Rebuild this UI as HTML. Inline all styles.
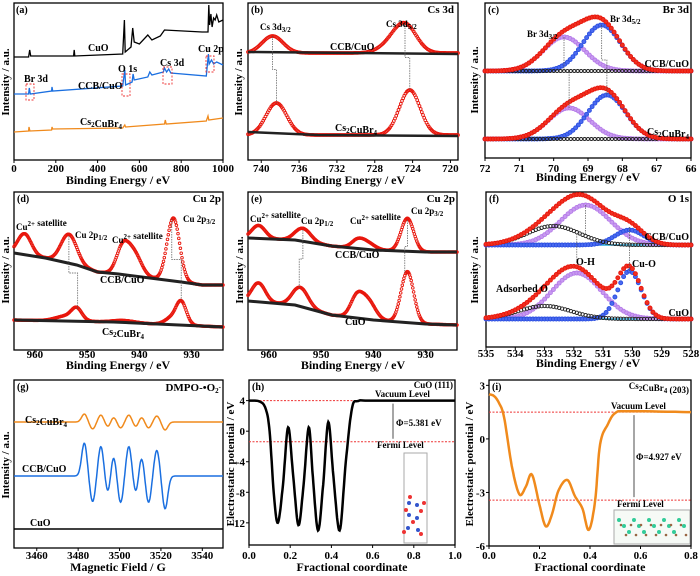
<!DOCTYPE html>
<html><head><meta charset="utf-8"><style>
html,body{margin:0;padding:0;background:#fff}
svg{display:block;font-family:"Liberation Serif",serif;font-weight:bold}
</style></head><body>
<svg id="fig" width="700" height="576" viewBox="0 0 700 576" xmlns="http://www.w3.org/2000/svg"></svg>
<script>
// ---------- data ----------
const aCuO=[[0,103],[70,103],[75,110],[80,104],[285,104],[288,110],[291,104],[520,106],[528,140],[532,108],[560,113],[568,132],[575,118],[600,116],[640,125],[660,120],[700,124],[720,130],[900,128],[928,128],[932,155],[936,135],[942,146],[948,133],[955,142],[962,140],[970,145],[980,138],[1000,140]];
const aCCB=[[0,66],[70,66],[73,72],[78,66],[180,69],[182,73],[185,69],[520,74],[530,90],[534,75],[565,78],[570,86],[575,80],[640,83],[650,88],[660,85],[715,88],[720,92],[730,88],[740,91],[750,87],[920,84],[930,106],[934,96],[945,100],[955,96],[970,98],[1000,95]];
const aCs=[[0,28],[70,29],[72,33],[76,29],[180,30],[182,33],[185,31],[520,32],[530,35],[534,33],[720,36],[724,40],[728,36],[920,39],[928,44],[932,40],[1000,42]];
// peaks: [center, height, sigma]
const bCCBbase=107, bCCBpk=[[724.8,28,1.2],[738.8,17,1.1],[726.5,6,1.2]];
const bCsbase=25, bCspk=[[724.3,45,1.1],[738.4,32,1.1]];
const cCCBbase=87, cCCBblue=[68.6,46,0.55], cCCBpurple=[69.7,34,0.6];
const cCsbase=19, cCsblue=[68.45,44,0.55], cCspurple=[69.55,31,0.6];
const dCCBbg=[[964,97],[958,92],[952,85],[948,78],[944,76],[938,72],[932,68],[928,65],[924,65]];
const dCCBpk=[[962,21,1.3],[953.5,29,1.5],[943.2,26,1.2],[941,22,1.4],[933.5,63,1.2]];
const dCsbg=[[964,30],[945,28],[924,23]];
const dCspk=[[952,11,1],[954,5,2],[932,23,1],[934,6,1.2],[943,2,2]];
const eCCBbg=[[964,112],[955,110],[948,104],[940,100],[930,98],[924,98]];
const eCCBpk=[[962,13,1.3],[953.5,13,1.5],[943,8,1.2],[941,6,1.4],[933.5,33,1.2]];
const eCuObg=[[964,49],[955,45],[948,35],[940,30],[930,26],[924,25]];
const eCuOpk=[[962,19,1.3],[954,19,1.5],[943.2,20,1.2],[941,18,1.4],[933.5,51,1.2]];
const fCCBbase=102, fCCBpurple=[531.6,40,0.85], fCCBblack=[532.7,19,0.9], fCCBblue=[530.1,15,0.5];
const fCuObase=28, fCuOpurple=[531.9,46,0.85], fCuOblue=[530.1,48,0.4], fCuOblack=[533.0,13,0.9];
const eprUp=[3483,3491,3497,3504.5,3510.5,3518];
const eprDown=[3487,3494.5,3500.5,3508,3514,3522];
const gCCBup=[33,30,21,30,20,26], gCCBdown=[26,18,27,18,27,33], gCCBbase=72;
const gCsup=[8,7,5,7,5,6], gCsdown=[7,5,6,5,6,8], gCsbase=126, gCuObase=19;
const hX=[0,0.05,0.08,0.1,0.12,0.14,0.165,0.19,0.215,0.24,0.265,0.29,0.31,0.335,0.36,0.385,0.41,0.44,0.47,0.5,0.53,0.6,1.0];
const hY=[4,3.9,3,0,-8,-12,-7,0.5,-6,-12.3,-7,0.5,-6,-13,-7,1.2,-6,-13,-4,3,3.95,4,4];
const iX=[0,0.02,0.04,0.06,0.09,0.12,0.145,0.17,0.2,0.225,0.25,0.275,0.31,0.34,0.37,0.395,0.42,0.44,0.47,0.5,0.55,0.8];
const iY=[2.5,2.4,2.0,1.2,-1.5,-3.1,-2.7,-2.0,-3.7,-4.9,-4.2,-2.9,-2.3,-3.2,-3.9,-5.1,-3.5,-0.3,0.8,1.45,1.55,1.5];
const hVac=4, hFermi=-1.381, iVac=1.5, iFermi=-3.427;

// ---------- helpers ----------
const NS='http://www.w3.org/2000/svg', svg=document.getElementById('fig');
function mk(tag,at,p){const e=document.createElementNS(NS,tag);for(const k in at)e.setAttribute(k,at[k]);(p||svg).appendChild(e);return e;}
function gauss(x,pk){return pk[1]*Math.exp(-((x-pk[0])**2)/(2*pk[2]*pk[2]));}
function interp(pts,x){for(let i=0;i<pts.length-1;i++){const a=pts[i],b=pts[i+1];if((x-a[0])*(x-b[0])<=0){const t=(x-a[0])/(b[0]-a[0]||1);return a[1]+t*(b[1]-a[1]);}}return pts[pts.length-1][1];}
function txt(p,x,y,s,opt){opt=opt||{};const t=mk('text',{x:x,y:y,'font-size':opt.fs||10,'text-anchor':opt.anchor||'start',fill:opt.fill||'#000'},p);if(opt.rot)t.setAttribute('transform','rotate(-90 '+x+' '+y+')');t.innerHTML=s;return t;}
function sub(s){return '<tspan font-size="7" dy="2">'+s+'</tspan><tspan dy="-2"></tspan>';}
function sup(s){return '<tspan font-size="7" dy="-4">'+s+'</tspan><tspan dy="4"></tspan>';}
function panel(name,x0,y0,x1,y1,xmin,xmax,ymin,ymax){
  const g=mk('g',{});
  
  
  const sx=v=>x0+(v-xmin)/(xmax-xmin)*(x1-x0);
  const sy=v=>y1-(v-ymin)/(ymax-ymin)*(y1-y0);
  const r=mk('rect',{x:x0,y:y0,width:x1-x0,height:y1-y0,fill:'none',stroke:'#000','stroke-width':1.3},g);
  
  
  return {g,sx,sy,x0,y0,x1,y1};
}
function xticks(P,vals,labels,ly){vals.forEach((v,i)=>{const x=P.sx(v);mk('line',{x1:x,x2:x,y1:P.y1,y2:P.y1+3,stroke:'#000'},P.g);const t=txt(P.g,x,ly,labels[i],{fs:11,anchor:'middle'});});}
function yticks(P,vals,labels,lx){vals.forEach((v,i)=>{const y=P.sy(v);mk('line',{x1:P.x0-3,x2:P.x0,y1:y,y2:y,stroke:'#000'},P.g);const t=txt(P.g,lx,y+4,labels[i],{fs:11,anchor:'end'});});}
function line(P,pts,color,w,name,dash){const d=pts.map((p,i)=>(i?'L':'M')+P.sx(p[0]).toFixed(1)+','+P.sy(p[1]).toFixed(1)).join('');const e=mk('path',{d:d,fill:'none',stroke:color,'stroke-width':w||1.2},P.g);if(dash)e.setAttribute('stroke-dasharray',dash);return e;}
function dots(P,pts,color,name,r,fill){const g=mk('g',{},P.g);pts.forEach(p=>mk('circle',{cx:P.sx(p[0]).toFixed(1),cy:P.sy(p[1]).toFixed(1),r:r||1.8,fill:fill||'none',stroke:color,'stroke-width':0.9},g));}
function sample(a,b,n,f){const o=[];for(let i=0;i<=n;i++){const x=a+(b-a)*i/n;o.push([x,f(x)]);}return o;}
function spline(xs,ys){const o=[];for(let i=0;i<xs.length-1;i++){const p0=[xs[Math.max(i-1,0)],ys[Math.max(i-1,0)]],p1=[xs[i],ys[i]],p2=[xs[i+1],ys[i+1]],p3=[xs[Math.min(i+2,xs.length-1)],ys[Math.min(i+2,xs.length-1)]];for(let k=0;k<10;k++){const t=k/10,t2=t*t,t3=t2*t;o.push([0.5*(2*p1[0]+(-p0[0]+p2[0])*t+(2*p0[0]-5*p1[0]+4*p2[0]-p3[0])*t2+(-p0[0]+3*p1[0]-3*p2[0]+p3[0])*t3),0.5*(2*p1[1]+(-p0[1]+p2[1])*t+(2*p0[1]-5*p1[1]+4*p2[1]-p3[1])*t2+(-p0[1]+3*p1[1]-3*p2[1]+p3[1])*t3)]);}}o.push([xs[xs.length-1],ys[ys.length-1]]);return o;}
function vdash(P,x1,y1,x2,y2){line(P,[[x1,y1],[x1,(y1+y2)/2],[x2,(y1+y2)/2],[x2,y2]],'#555',0.7,'guide-line','1.5,1');}
function ytitle(x,y,s){const t=txt(svg,x,y,s,{fs:11,anchor:'middle',rot:true});}
function xtitle(x,y,s){const t=txt(svg,x,y,s,{fs:12,anchor:'middle'});}
function lab(P,x,y,s,opt,name){const t=txt(P.g,x,y,s,opt);return t;}

// ---------- (a) ----------
let P=panel('panel-a-survey',14,3,223,160,0,1000,0,157);
line(P,aCuO,'#000',1.3,'series-cuo');
line(P,aCCB,'#1a6fe0',1.3,'series-ccb-cuo');
line(P,aCs,'#f08a1c',1.3,'series-cs2cubr4');
xticks(P,[0,200,400,600,800,1000],['0','200','400','600','800','1000'],172);
lab(P,16,13,'(a)',{fs:10},'panel-label');
lab(P,88,51,'CuO');lab(P,78,89,'CCB/CuO');lab(P,80,125,'Cs'+sub('2')+'CuBr'+sub('4'));
lab(P,24,82,'Br 3d');lab(P,118,72,'O 1s');lab(P,160,66,'Cs 3d');lab(P,198,52,'Cu 2p');
[[26,84,8,16],[122,74,8,22],[163,67,9,17],[206,56,8,16]].forEach(b=>{const r=mk('rect',{x:b[0],y:b[1],width:b[2],height:b[3],fill:'none',stroke:'#e33','stroke-width':0.9,'stroke-dasharray':'2,1.5'},P.g);});
ytitle(9,82,'Intensity / a.u.');xtitle(118,184,'Binding Energy / eV');

// ---------- (b) ----------
P=panel('panel-b-cs3d',248,3,458,160,741.4,719.2,0,157);
let s=sample(741.4,719.2,180,x=>bCCBbase+bCCBpk.reduce((a,p)=>a+gauss(x,p),0));
dots(P,s,'#e8160c','series-ccb-cuo-data',1.4);line(P,[[741.4,bCCBbase+1],[719.2,bCCBbase-1]],'#222',2.5,'ccb-background');
s=sample(741.4,719.2,180,x=>bCsbase+bCspk.reduce((a,p)=>a+gauss(x,p),0));
dots(P,s,'#e8160c','series-cs2cubr4-data',1.4);line(P,[[741.4,bCsbase+3],[734,bCsbase],[719.2,bCsbase-1]],'#222',2.5,'cs-background');
vdash(P,738.8,bCCBbase+bCCBpk[1][1],738.4,bCsbase+bCspk[1][1]);vdash(P,724.8,bCCBbase+bCCBpk[0][1],724.3,bCsbase+bCspk[0][1]);
xticks(P,[740,736,732,728,724,720],['740','736','732','728','724','720'],172);
lab(P,251,13,'(b)',{},'panel-label');lab(P,454,13,'Cs 3d',{fs:11,anchor:'end'},'panel-title');
lab(P,330,50,'CCB/CuO');lab(P,335,131,'Cs'+sub('2')+'CuBr'+sub('4'));
lab(P,260,30,'Cs 3d'+sub('3/2'),{fs:9});lab(P,386,27,'Cs 3d'+sub('5/2'),{fs:9});
ytitle(242,82,'Intensity / a.u.');xtitle(353,184,'Binding Energy / eV');

// ---------- (c) ----------
P=panel('panel-c-br3d',485,3,691,158,72,66,0,155);
[[cCCBbase,cCCBblue,cCCBpurple,'ccb'],[cCsbase,cCsblue,cCspurple,'cs']].forEach(q=>{
  const b=q[0];
  dots(P,sample(72,66,75,x=>b+gauss(x,q[2])),'#b57ae8','series-'+q[3]+'-br3d32',2,'#c79af0');
  dots(P,sample(72,66,75,x=>b+gauss(x,q[1])),'#2b4fe0','series-'+q[3]+'-br3d52',2,'#4a6af0');
  dots(P,sample(72,67,50,x=>b),'#222','series-'+q[3]+'-background',1.5);
  dots(P,sample(72,66,75,x=>b+gauss(x,q[1])+gauss(x,q[2])),'#e8160c','series-'+q[3]+'-envelope',2,'#f03020');
});
vdash(P,69.7,cCCBbase+34,69.55,cCsbase+31);vdash(P,68.6,cCCBbase+46,68.45,cCsbase+44);
xticks(P,[72,71,70,69,68,67,66],['72','71','70','69','68','67','66'],172);
lab(P,488,13,'(c)',{},'panel-label');lab(P,689,13,'Br 3d',{fs:11,anchor:'end'},'panel-title');
lab(P,689,67,'CCB/CuO',{anchor:'end'});lab(P,689,135,'Cs'+sub('2')+'CuBr'+sub('4'),{anchor:'end'});
lab(P,527,37,'Br 3d'+sub('3/2'),{fs:9});lab(P,610,22,'Br 3d'+sub('5/2'),{fs:9});
ytitle(478,80,'Intensity / a.u.');xtitle(588,181,'Binding Energy / eV');

// ---------- (d) ----------
P=panel('panel-d-cu2p',14,192,223,350,964,924,0,158);
dots(P,sample(964,924,260,x=>interp(dCCBbg,x)+dCCBpk.reduce((a,p)=>a+gauss(x,p),0)),'#e8160c','series-ccb-cuo-data',1.3);
line(P,dCCBbg,'#222',3,'ccb-background');
dots(P,sample(964,924,260,x=>interp(dCsbg,x)+dCspk.reduce((a,p)=>a+gauss(x,p),0)),'#e8160c','series-cs2cubr4-data',1.3);
line(P,dCsbg,'#222',3,'cs-background');
vdash(P,953.5,114,951.8,40);vdash(P,933.8,131,932,50);
xticks(P,[960,950,940,930],['960','950','940','930'],358);
lab(P,17,202,'(d)',{},'panel-label');lab(P,221,202,'Cu 2p',{fs:11,anchor:'end'},'panel-title');
lab(P,16,230,'Cu'+sup('2+')+' satellite',{fs:9});lab(P,75,238,'Cu 2p'+sub('1/2'),{fs:9});lab(P,112,243,'Cu'+sup('2+')+' satellite',{fs:9});lab(P,183,222,'Cu 2p'+sub('3/2'),{fs:9});
lab(P,100,283,'CCB/CuO');lab(P,102,335,'Cs'+sub('2')+'CuBr'+sub('4'));
ytitle(9,270,'Intensity / a.u.');xtitle(118,369,'Binding Energy / eV');

// ---------- (e) ----------
P=panel('panel-e-cu2p',248,192,457,350,964,924,0,158);
dots(P,sample(964,924,260,x=>interp(eCCBbg,x)+eCCBpk.reduce((a,p)=>a+gauss(x,p),0)),'#e8160c','series-ccb-cuo-data',1.3);
line(P,eCCBbg,'#222',3,'ccb-background');
dots(P,sample(964,924,260,x=>interp(eCuObg,x)+eCuOpk.reduce((a,p)=>a+gauss(x,p),0)),'#e8160c','series-cuo-data',1.3);
line(P,eCuObg,'#222',3,'cuo-background');
vdash(P,953.5,120,954.2,62);vdash(P,933.5,130,934,77);
xticks(P,[960,950,940,930],['960','950','940','930'],358);
lab(P,251,202,'(e)',{},'panel-label');lab(P,455,202,'Cu 2p',{fs:11,anchor:'end'},'panel-title');
lab(P,250,222,'Cu'+sup('2+')+' satellite',{fs:9});lab(P,301,224,'Cu 2p'+sub('1/2'),{fs:9});lab(P,350,224,'Cu'+sup('2+')+' satellite',{fs:9});lab(P,411,214,'Cu 2p'+sub('3/2'),{fs:9});
lab(P,335,258,'CCB/CuO');lab(P,345,325,'CuO');
ytitle(243,270,'Intensity / a.u.');xtitle(353,369,'Binding Energy / eV');

// ---------- (f) ----------
P=panel('panel-f-o1s',486,192,691,347,535,528,0,155);
[[fCCBbase,fCCBpurple,fCCBblack,fCCBblue,'ccb'],[fCuObase,fCuOpurple,fCuOblack,fCuOblue,'cuo']].forEach(q=>{
  const b=q[0];
  line(P,[[535,b],[528,b]],'#2ad','1.5','series-'+q[4]+'-baseline');
  dots(P,sample(535,528,70,x=>b+gauss(x,q[1])),'#b57ae8','series-'+q[4]+'-oh',2,'#c79af0');
  dots(P,sample(535,528,70,x=>b+gauss(x,q[3])),'#2b4fe0','series-'+q[4]+'-cuo',2,'#4a6af0');
  dots(P,sample(535,528,70,x=>b+gauss(x,q[2])),'#222','series-'+q[4]+'-adsorbed',1.7);
  dots(P,sample(535,528,70,x=>b+gauss(x,q[1])+gauss(x,q[2])+gauss(x,q[3])),'#e8160c','series-'+q[4]+'-envelope',2,'#f03020');
});
vdash(P,531.6,fCCBbase+40,531.9,fCuObase+56);vdash(P,530.1,fCCBbase+18,530.1,fCuObase+48);
xticks(P,[535,534,533,532,531,530,529,528],['535','534','533','532','531','530','529','528'],357);
lab(P,489,202,'(f)',{},'panel-label');lab(P,689,202,'O 1s',{fs:11,anchor:'end'},'panel-title');
lab(P,689,240,'CCB/CuO',{anchor:'end'});lab(P,689,316,'CuO',{anchor:'end'});
lab(P,576,265,'O-H');lab(P,632,267,'Cu-O');lab(P,496,292,'Adsorbed O');
ytitle(478,270,'Intensity / a.u.');xtitle(588,367,'Binding Energy / eV');

// ---------- (g) ----------
P=panel('panel-g-epr',14,380,223,548,3449,3550,0,168);
function epr(x,b,up,dn){let y=b;eprUp.forEach((c,i)=>{y+=up[i]*Math.exp(-((x-c)**2)/3.4);});eprDown.forEach((c,i)=>{y-=dn[i]*Math.exp(-((x-c)**2)/3.4);});return y;}
line(P,sample(3449,3550,400,x=>epr(x,gCsbase,gCsup,gCsdown)),'#f08a1c',1.5,'series-cs2cubr4');
line(P,sample(3449,3550,400,x=>epr(x,gCCBbase,gCCBup,gCCBdown)),'#1a6fe0',1.5,'series-ccb-cuo');
line(P,[[3449,gCuObase],[3550,gCuObase]],'#000',1.5,'series-cuo');
xticks(P,[3460,3480,3500,3520,3540],['3460','3480','3500','3520','3540'],559);
lab(P,17,390,'(g)',{},'panel-label');lab(P,221,391,'DMPO-•O'+sub('2')+sup('-'),{fs:11,anchor:'end'},'panel-title');
lab(P,25,423,'Cs'+sub('2')+'CuBr'+sub('4'));lab(P,22,472,'CCB/CuO');lab(P,30,526,'CuO');
ytitle(9,465,'Intensity / a.u.');xtitle(118,571,'Magnetic Field / G');

// ---------- (h) ----------
P=panel('panel-h-potential-cuo',249,380,455,545,0,1,-14.9,6.7);
line(P,[[0,hVac],[1,hVac]],'#e33',1,'vacuum-level-line','2,1.5');
line(P,[[0,hFermi],[1,hFermi]],'#e33',1,'fermi-level-line','2,1.5');
line(P,spline(hX,hY),'#000',2.5,'series-potential-cuo');
xticks(P,[0,0.2,0.4,0.6,0.8,1.0],['0.0','0.2','0.4','0.6','0.8','1.0'],559);
yticks(P,[-12,-8,-4,0,4],['-12','-8','-4','0','4'],245);
lab(P,453,388,'CuO (111)',{fs:9,anchor:'end'},'panel-title');lab(P,252,390,'(h)',{},'panel-label');
lab(P,375,397,'Vacuum Level',{fs:9});lab(P,396,426,'Φ=5.381 eV',{fs:9});lab(P,377,448,'Fermi Level',{fs:9});
mk('line',{x1:393,x2:393,y1:P.sy(hVac)+3,y2:P.sy(hFermi)-3,stroke:'#000','stroke-width':0.7},P.g);
mk('rect',{x:404,y:453,width:23,height:90,fill:'none',stroke:'#aaa'},P.g);
[[409,503,'#35c'],[417,505,'#35c'],[409,515,'#35c'],[417,518,'#35c'],[408,528,'#35c'],[418,530,'#35c'],[406,510,'#e33'],[421,511,'#e33'],[413,522,'#e33'],[404,532,'#e33'],[421,534,'#e33'],[410,497,'#e33'],[424,503,'#e33']].forEach(a=>mk('circle',{cx:a[0],cy:a[1],r:2,fill:a[2]},P.g));
ytitle(234,464,'Electrostatic potential / eV');xtitle(352,571,'Fractional coordinate');

// ---------- (i) ----------
P=panel('panel-i-potential-cs2cubr4',489,380,691,546,0,0.8,-6,3.3);
line(P,[[0,iVac],[0.8,iVac]],'#e33',1,'vacuum-level-line','2,1.5');
line(P,[[0,iFermi],[0.8,iFermi]],'#e33',1,'fermi-level-line','2,1.5');
line(P,spline(iX,iY),'#f08a1c',2.5,'series-potential-cs2cubr4');
xticks(P,[0,0.2,0.4,0.6,0.8],['0.0','0.2','0.4','0.6','0.8'],559);
yticks(P,[-6,-3,0,3],['-6','-3','0','3'],485);
lab(P,689,389,'Cs'+sub('2')+'CuBr'+sub('4')+' (203)',{fs:9,anchor:'end'},'panel-title');lab(P,492,390,'(i)',{},'panel-label');
lab(P,611,409,'Vacuum Level',{fs:9});lab(P,636,460,'Φ=4.927 eV',{fs:9});lab(P,617,507,'Fermi Level',{fs:9});
mk('line',{x1:634,x2:634,y1:P.sy(iVac)+3,y2:P.sy(iFermi)-3,stroke:'#000','stroke-width':0.7},P.g);
mk('rect',{x:614,y:510,width:76,height:34,fill:'#f6faf6',stroke:'#aaa'},P.g);
for(let k=0;k<14;k++){mk('circle',{cx:619+k*5,cy:526+((k%3)-1)*6,r:2,fill:'#3c9'},P.g);mk('circle',{cx:621+k*5,cy:530+((k%2)*2-1)*5,r:1.3,fill:'#964'},P.g);}
ytitle(473,464,'Electrostatic potential / eV');xtitle(590,571,'Fractional coordinate');
</script>
</body></html>
